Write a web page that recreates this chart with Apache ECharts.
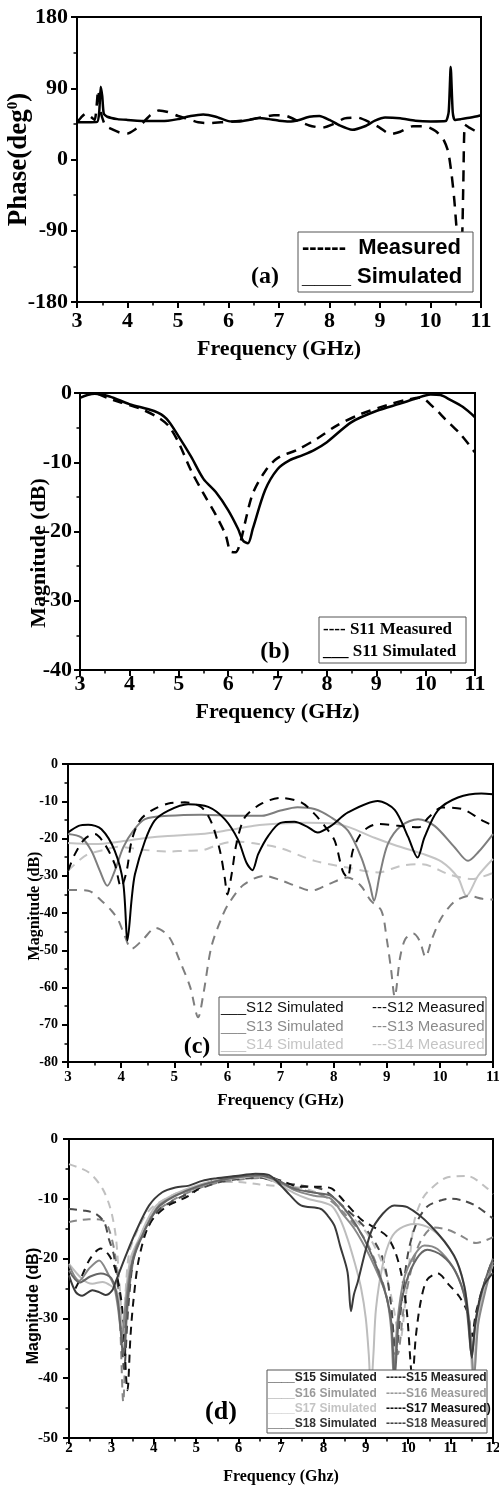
<!DOCTYPE html>
<html><head><meta charset="utf-8">
<script src="https://cdn.jsdelivr.net/npm/echarts@6/dist/echarts.min.js"></script>
<style>html,body{margin:0;padding:0;background:#fff}#c{width:499px;height:1486px}</style>
</head><body><div id="c"></div><script>
// ---------- DATA (frequency GHz, value) ----------
// Panel (a): phase (deg)
const A_SIM = [[3.0,47],[3.2,47],[3.4,47.5],[3.44,60],[3.47,92],[3.5,80],[3.53,58],[3.6,54],[3.8,51],[4.0,50],[4.4,48.5],[4.8,49],[5.0,51],[5.25,55],[5.5,57],[5.75,54],[6.0,48.5],[6.2,48],[6.4,50],[6.6,52.5],[6.8,51],[7.0,49],[7.2,48],[7.4,50],[7.6,54],[7.8,55],[8.0,50],[8.2,43],[8.45,37.5],[8.7,42],[8.9,49],[9.1,53],[9.4,52],[9.7,49],[10.0,48],[10.3,48.5],[10.36,60],[10.4,117],[10.44,60],[10.48,50],[10.6,51],[10.8,53],[11.0,56]];
const A_MEAS = [[3.0,47],[3.08,53],[3.17,58],[3.25,55],[3.35,50],[3.42,88],[3.47,60],[3.56,43],[3.7,38],[3.85,34],[4.0,33],[4.15,38],[4.3,46],[4.45,56],[4.62,62],[4.8,60],[5.0,55],[5.2,51],[5.4,47],[5.6,46],[5.85,47],[6.1,48],[6.4,50],[6.65,53],[6.9,56],[7.15,55],[7.4,48],[7.6,43],[7.85,40],[8.05,44],[8.3,52],[8.55,53],[8.8,47],[9.0,40],[9.2,32],[9.4,35],[9.65,42],[9.9,42],[10.1,36],[10.25,26],[10.35,10],[10.42,-20],[10.47,-50],[10.52,-90],[10.57,-120],[10.62,-110],[10.65,-30],[10.68,44],[10.75,41],[11.0,32]];
// Panel (b): S11 magnitude (dB)
const B_MEAS = [[3.35,-0.1],[3.55,-0.7],[3.8,-1.3],[4.2,-2.2],[4.6,-3.6],[4.8,-4.8],[5.0,-7.2],[5.25,-11.2],[5.5,-14.5],[5.75,-17.6],[5.95,-20.5],[6.05,-22.9],[6.15,-23],[6.25,-21.5],[6.35,-18.5],[6.5,-14.5],[6.75,-11.3],[7.0,-9.4],[7.4,-8.2],[7.8,-6.6],[8.2,-4.7],[8.7,-3.0],[9.2,-1.8],[9.6,-1.0],[9.9,-0.7],[10.15,-2.0],[10.4,-3.8],[10.7,-5.9],[11.0,-8.6]];
const B_SIM = [[3.0,-0.7],[3.15,-0.3],[3.3,-0.1],[3.6,-0.5],[4.0,-1.6],[4.5,-2.6],[4.75,-3.7],[5.0,-6.3],[5.25,-9.2],[5.5,-12.4],[5.75,-14.3],[6.0,-16.9],[6.2,-19.6],[6.3,-21.3],[6.4,-21.7],[6.5,-19.6],[6.75,-14.0],[7.0,-11.0],[7.25,-9.7],[7.5,-9.0],[7.75,-8.2],[8.0,-7.1],[8.5,-4.2],[9.0,-2.6],[9.5,-1.5],[9.8,-0.8],[10.1,-0.2],[10.3,-0.3],[10.5,-1.0],[10.75,-2.0],[11.0,-3.5]];
// Panel (c): S12..S14 (dB)
const C_S12_SIM = [[3.0,-18.4],[3.2,-16.6],[3.38,-16.3],[3.63,-17.5],[3.88,-23.3],[4.04,-32],[4.12,-47.3],[4.2,-36],[4.26,-29.6],[4.45,-20.6],[4.63,-15.2],[4.89,-12.5],[5.26,-10.8],[5.64,-11.5],[5.95,-14.8],[6.2,-20.3],[6.36,-26.5],[6.47,-28.5],[6.58,-24.2],[6.77,-19.3],[7.0,-15.8],[7.26,-15.5],[7.5,-16.8],[7.7,-18.4],[7.95,-16.6],[8.27,-13],[8.83,-9.9],[9.15,-12.3],[9.4,-19.5],[9.58,-25.1],[9.71,-19.7],[9.96,-12.5],[10.34,-9.0],[10.78,-7.9],[11.0,-8.1]];
const C_S12_MEAS = [[3.0,-28.7],[3.13,-24.2],[3.31,-20.2],[3.5,-18.8],[3.69,-21.5],[3.88,-26.9],[4.0,-33],[4.1,-29],[4.2,-20.5],[4.35,-15.2],[4.57,-12.5],[4.89,-10.6],[5.2,-10.3],[5.51,-11.6],[5.7,-15.7],[5.86,-23.3],[5.95,-30.5],[6.0,-35],[6.08,-29.6],[6.17,-21.5],[6.33,-14.3],[6.65,-10.6],[7.0,-9.1],[7.39,-10.3],[7.64,-13.4],[7.85,-17],[8.02,-20.6],[8.17,-28.7],[8.26,-30.5],[8.36,-23.3],[8.5,-19],[8.65,-17],[8.84,-16.1],[9.22,-16.6],[9.6,-17],[9.79,-14.3],[10.04,-11.7],[10.42,-12.1],[10.8,-15.2],[11.0,-16.5]];
const C_S13_SIM = [[3.0,-18.8],[3.25,-19.7],[3.44,-23.3],[3.6,-28.7],[3.74,-32.7],[3.88,-28.7],[4.04,-22.4],[4.23,-17.9],[4.45,-14.8],[4.89,-13.9],[5.51,-13.6],[6.14,-13.9],[6.65,-13.9],[7.0,-12.5],[7.32,-11.6],[7.64,-12.1],[7.95,-14.3],[8.27,-17.9],[8.52,-25.1],[8.68,-32.3],[8.76,-36.7],[8.87,-29.6],[9.02,-21.5],[9.27,-16.6],[9.59,-14.8],[9.9,-16.6],[10.28,-22.4],[10.53,-26],[10.72,-23.7],[11.0,-18.8]];
const C_S13_MEAS = [[3.0,-33.8],[3.38,-34],[3.63,-36.7],[3.82,-39.4],[3.95,-42],[4.05,-45.5],[4.2,-49.6],[4.4,-47.3],[4.65,-44],[4.9,-46.4],[5.1,-52.7],[5.3,-59.9],[5.45,-68],[5.55,-61.6],[5.7,-49],[5.9,-41],[6.02,-37.6],[6.3,-32.5],[6.7,-30],[7.0,-31.2],[7.3,-32.8],[7.58,-34],[7.9,-32.3],[8.26,-30.5],[8.5,-32.5],[8.7,-36.7],[8.9,-39.4],[9.0,-47],[9.08,-55],[9.15,-62.5],[9.25,-52],[9.35,-47],[9.5,-45.5],[9.62,-47.5],[9.73,-51.8],[9.85,-47],[10.0,-42],[10.15,-38.8],[10.3,-36.7],[10.55,-35.4],[10.8,-36.2],[11.0,-36.4]];
const C_S14_SIM = [[3.0,-21.2],[3.5,-21.5],[4.0,-20.8],[4.5,-19.8],[4.88,-19.3],[5.5,-18.8],[6.0,-17.8],[6.5,-16.6],[7.0,-16.0],[7.5,-15.8],[8.0,-16.0],[8.3,-17],[8.77,-19.8],[9.2,-22],[9.65,-24],[10.03,-26.2],[10.34,-30.5],[10.5,-35.4],[10.72,-30],[11.0,-25.5]];
const C_S14_MEAS = [[3.0,-28.7],[3.2,-26],[3.38,-24.2],[3.7,-23],[3.94,-22.2],[4.4,-23],[4.88,-23.5],[5.2,-23.3],[5.51,-23.2],[5.8,-21.8],[6.14,-20.8],[6.5,-21.3],[7.0,-22.6],[7.64,-26],[8.26,-27.8],[8.84,-29.1],[9.28,-27.3],[9.66,-26.9],[10.17,-29.6],[10.6,-30.9],[11.0,-29.2]];
// Panel (d): S15..S18 (dB)
const D_S15_SIM = [[2.0,-22.8],[2.16,-25.6],[2.31,-26.2],[2.55,-25.3],[2.71,-25.6],[2.86,-26.1],[3.02,-25.3],[3.1,-23.9],[3.34,-19.5],[3.57,-15.6],[3.89,-11.1],[4.2,-8.9],[4.51,-8.1],[4.83,-7.8],[5.14,-7.0],[5.46,-6.6],[5.93,-6.2],[6.4,-5.8],[6.71,-6.0],[7.0,-7.8],[7.2,-9.3],[7.47,-11.1],[7.94,-11.7],[8.1,-12.8],[8.26,-14.5],[8.4,-18],[8.57,-22.3],[8.65,-28.8],[8.72,-26],[8.81,-23.9],[9.12,-15.6],[9.4,-12.5],[9.67,-11.1],[9.98,-11.4],[10.53,-14.5],[11.08,-19.5],[11.32,-24.5],[11.42,-30],[11.5,-36.6],[11.58,-31],[11.75,-25],[12.0,-22.4]];
const D_S16_SIM = [[2.0,-21.1],[2.24,-23.7],[2.47,-21.7],[2.71,-20.3],[2.94,-22.8],[3.06,-24.5],[3.15,-28],[3.25,-33],[3.33,-28],[3.45,-21.5],[3.6,-17.8],[3.73,-16.2],[3.9,-13.5],[4.12,-11.1],[4.5,-9.5],[5.0,-8.2],[5.5,-7.0],[6.0,-6.4],[6.5,-6.0],[6.8,-6.5],[7.0,-7.2],[7.3,-8.5],[7.79,-9.5],[8.18,-10],[8.45,-12.5],[8.73,-15],[9.0,-18.3],[9.2,-21.2],[9.4,-24.5],[9.51,-27],[9.6,-32],[9.66,-40],[9.74,-31],[9.9,-23.4],[10.14,-19.5],[10.38,-17.8],[10.69,-18.4],[11.08,-21.7],[11.3,-25.5],[11.45,-31],[11.55,-40],[11.65,-31],[11.8,-26],[12.0,-20.5]];
const D_S17_SIM = [[2.0,-20.9],[2.31,-23.4],[2.55,-24.2],[2.79,-23.9],[2.98,-24.5],[3.14,-25.6],[3.21,-29],[3.27,-32],[3.34,-26],[3.45,-20],[3.65,-16.7],[3.85,-13.5],[4.06,-11.1],[4.5,-9.2],[5.0,-7.8],[5.5,-6.9],[6.0,-6.5],[6.4,-6.2],[6.7,-6.6],[7.0,-7.8],[7.3,-9],[7.63,-10],[8.18,-11.1],[8.4,-13.5],[8.57,-16.7],[8.75,-21],[8.89,-25],[9.0,-30],[9.07,-36],[9.12,-42],[9.18,-36],[9.24,-28.4],[9.4,-21],[9.59,-16.7],[9.8,-15],[10.14,-14.2],[10.53,-15],[10.93,-17.8],[11.24,-22.3],[11.42,-29],[11.53,-40],[11.63,-31],[11.8,-25],[12.0,-21]];
const D_S18_SIM = [[2.0,-22],[2.25,-24],[2.5,-23],[2.75,-22.5],[3.0,-23.3],[3.15,-27],[3.28,-36],[3.38,-27],[3.5,-20.5],[3.75,-15.8],[4.0,-12.5],[4.15,-11.1],[4.5,-9.5],[5.0,-8],[5.5,-7],[6.0,-6.3],[6.5,-6.1],[7.0,-7.2],[7.3,-8.3],[7.79,-9],[8.18,-9.5],[8.57,-12.3],[8.96,-16.7],[9.36,-23.4],[9.59,-30],[9.68,-40],[9.78,-30],[9.95,-24],[10.2,-20],[10.45,-18.5],[10.8,-19.5],[11.1,-22],[11.35,-27],[11.5,-36],[11.6,-30],[11.8,-24],[12.0,-20]];
const D_S15_MEAS = [[2.15,-25],[2.31,-22.8],[2.5,-20],[2.75,-18.3],[2.95,-19.5],[3.1,-22],[3.25,-28],[3.38,-42],[3.45,-33],[3.52,-27],[3.65,-20],[3.9,-14.2],[4.3,-11.3],[4.8,-9.6],[5.25,-7.4],[5.9,-6.3],[6.5,-6.0],[7.05,-7.1],[7.45,-8],[7.9,-8],[8.2,-8.3],[8.5,-10.5],[8.9,-13.5],[9.25,-15],[9.5,-16.3],[9.7,-19],[9.85,-23],[9.97,-29],[10.1,-40],[10.18,-33],[10.3,-27],[10.45,-23.5],[10.7,-22.5],[10.95,-24.3],[11.2,-26.3],[11.4,-29],[11.5,-33],[11.6,-29],[11.8,-24],[12.0,-20]];
const D_S16_MEAS = [[2.0,-13.9],[2.47,-13.4],[2.79,-13.6],[2.94,-15],[3.1,-20],[3.2,-30],[3.28,-44],[3.36,-30],[3.5,-21],[3.7,-16],[4.0,-12.5],[4.5,-10],[5.0,-8.4],[5.5,-7.3],[6.0,-6.8],[6.5,-6.5],[7.0,-7.5],[7.5,-8.5],[8.0,-9.5],[8.5,-12.5],[9.0,-17],[9.4,-24],[9.6,-30],[9.75,-36],[9.9,-28],[10.1,-21],[10.3,-17],[10.6,-14.8],[10.9,-15.1],[11.2,-16],[11.6,-17.4],[12.0,-16.4]];
const D_S17_MEAS = [[2.0,-4.2],[2.47,-5.6],[2.79,-8.3],[2.98,-11.7],[3.1,-16.1],[3.16,-21.1],[3.22,-27],[3.27,-33],[3.33,-26],[3.42,-19],[3.6,-15.5],[3.8,-12.8],[4.0,-11.2],[4.5,-9.2],[5.0,-8],[5.5,-7.2],[6.0,-7.2],[6.5,-7.6],[7.0,-7.9],[7.5,-8.2],[8.0,-9.5],[8.5,-12],[9.0,-15.5],[9.4,-21],[9.65,-28],[9.8,-34],[9.95,-26],[10.14,-13.9],[10.3,-10.5],[10.45,-8.9],[10.93,-6.4],[11.4,-6.2],[11.87,-8.3],[12.0,-9.2]];
const D_S18_MEAS = [[2.0,-11.7],[2.39,-12],[2.63,-12.5],[2.83,-13.9],[2.94,-16.7],[3.06,-19.5],[3.2,-28],[3.3,-38.5],[3.4,-28],[3.55,-19],[3.81,-15.5],[4.1,-12],[4.5,-10.2],[5.0,-8.6],[5.5,-7.3],[6.0,-6.7],[6.5,-6.5],[7.0,-7.3],[7.5,-7.8],[8.0,-8.5],[8.5,-11.5],[9.0,-15],[9.4,-20],[9.6,-28],[9.7,-36],[9.85,-27],[10.0,-19],[10.2,-14],[10.45,-11.3],[10.8,-10.2],[11.0,-10],[11.3,-10.3],[11.6,-11.2],[12.0,-13.3]];

// ---------- STYLE HELPERS ----------
const SERIF = 'Liberation Serif';
const SANS = 'Liberation Sans';

function xAx(gi, min, max, fs, margin, name, nfs, gap, nf) {
  return {
    type: 'value', gridIndex: gi, min: min, max: max, interval: 1,
    axisLine: {show: true, onZero: false, lineStyle: {color: '#000', width: 2}},
    axisTick: {show: true, inside: false, length: 6, lineStyle: {color: '#000', width: 2}},
    minorTick: {show: true, splitNumber: 2, length: 3.5, lineStyle: {color: '#000', width: 1.5}},
    splitLine: {show: false}, minorSplitLine: {show: false},
    axisLabel: {color: '#000', fontFamily: SERIF, fontWeight: 'bold', fontSize: fs, margin: margin},
    name: name, nameLocation: 'middle', nameGap: gap, nameMoveOverlap: false,
    nameTextStyle: {color: '#000', fontFamily: nf || SERIF, fontWeight: 'bold', fontSize: nfs}
  };
}
function yAx(gi, min, max, interval, fs, margin, name, nfs, gap, nf, pad, rich) {
  return {
    type: 'value', gridIndex: gi, min: min, max: max, interval: interval,
    axisLine: {show: true, onZero: false, lineStyle: {color: '#000', width: 2}},
    axisTick: {show: true, inside: false, length: 6, lineStyle: {color: '#000', width: 2}},
    minorTick: {show: true, splitNumber: 2, length: 3.5, lineStyle: {color: '#000', width: 1.5}},
    splitLine: {show: false}, minorSplitLine: {show: false},
    axisLabel: {color: '#000', fontFamily: SERIF, fontWeight: 'bold', fontSize: fs, margin: margin},
    name: name, nameLocation: 'middle', nameGap: gap, nameRotate: 90, nameMoveOverlap: false,
    nameTextStyle: {color: '#000', fontFamily: nf || SERIF, fontWeight: 'bold', fontSize: nfs,
      padding: pad || 0, rich: rich || {}}
  };
}
function ln(name, gi, data, color, width, dash, smooth) {
  return {
    name: name, type: 'line', xAxisIndex: gi, yAxisIndex: gi, data: data,
    showSymbol: false, symbol: 'none', smooth: smooth, animation: false,
    lineStyle: {color: color, width: width, type: dash || 'solid'},
    itemStyle: {color: color}, emphasis: {disabled: true}
  };
}
function lg(left, top, pitch, font, weight, fs, items, fmt) {
  return {
    left: left, top: top, orient: 'vertical', icon: 'none', itemWidth: 0, itemHeight: pitch,
    itemGap: 0, padding: 0, selectedMode: false, z: 20,
    data: items.map(function (it) { return {name: it[0], textStyle: {color: it[1]}}; }),
    formatter: fmt,
    textStyle: {fontFamily: font, fontWeight: weight, fontSize: fs, lineHeight: pitch, color: '#000'}
  };
}

const chart = echarts.init(document.getElementById('c'), null, {renderer: 'canvas'});
const gridBase = {show: true, borderColor: '#000', borderWidth: 2, backgroundColor: 'transparent',
  containLabel: false, outerBoundsMode: 'none'};

const option = {
  animation: false,
  backgroundColor: '#fff',
  grid: [
    Object.assign({left: 77, top: 17, width: 404, height: 285}, gridBase),
    Object.assign({left: 80, top: 393, width: 395, height: 277}, gridBase),
    Object.assign({left: 68, top: 764, width: 425, height: 298}, gridBase),
    Object.assign({left: 69, top: 1139, width: 424, height: 299}, gridBase)
  ],
  xAxis: [
    xAx(0, 3, 11, 22, 8, 'Frequency (GHz)', 22, 36),
    xAx(1, 3, 11, 22, 3, 'Frequency (GHz)', 22, 31),
    xAx(2, 3, 11, 15, 8, 'Frequency (GHz)', 17, 30),
    xAx(3, 2, 12, 15, 3, 'Frequency (Ghz)', 16, 31)
  ],
  yAxis: [
    yAx(0, -180, 180, 90, 22, 9, 'Phase(deg{s|0})', 27, 44, SERIF, 0,
        {s: {fontFamily: SERIF, fontWeight: 'bold', fontSize: 15, verticalAlign: 'top'}}),
    yAx(1, -40, 0, 10, 22, 8, 'Magnitude (dB)', 22, 30, SERIF, [0, 43, 0, 0]),
    yAx(2, -80, 0, 10, 14, 10, 'Magnitude (dB)', 16, 25, SERIF, [0, 0, 0, 14]),
    yAx(3, -50, 0, 10, 15, 11, 'Magnitude (dB)', 16, 27, SANS, [0, 35, 0, 0])
  ],
  legend: [
    lg(297, 233.5, 29, SANS, 'bold', 22, [['Measured', '#000'], ['Simulated', '#000']],
       function (n) { return n === 'Measured' ? '------  Measured' : '____ Simulated'; }),
    lg(318, 619, 22, SERIF, 'bold', 17, [['S11 Measured', '#000'], ['S11 Simulated', '#000']],
       function (n) { return n === 'S11 Measured' ? '---- S11 Measured' : '___ S11 Simulated'; }),
    lg(216, 998.7, 18.5, SANS, 'normal', 15,
       [['S12 Simulated', '#111'], ['S13 Simulated', '#8a8a8a'], ['S14 Simulated', '#c4c4c4']],
       function (n) { return '___' + n; }),
    lg(367, 998.7, 18.5, SANS, 'normal', 15,
       [['S12 Measured', '#111'], ['S13 Measured', '#8a8a8a'], ['S14 Measured', '#c4c4c4']],
       function (n) { return '---' + n; }),
    lg(263, 1370.3, 15.3, SANS, 'bold', 12,
       [['S15 Simulated', '#222'], ['S16 Simulated', '#9a9a9a'], ['S17 Simulated', '#c4c4c4'], ['S18 Simulated', '#333']],
       function (n) { return '____' + n; }),
    lg(381, 1370.3, 15.3, SANS, 'bold', 12,
       [['S15 Measured', '#222'], ['S16 Measured', '#9a9a9a'], ['S17 Measured', '#111'], ['S18 Measured', '#444']],
       function (n) { return '-----' + n + (n === 'S17 Measured' ? ')' : ''); })
  ],
  graphic: [
    {type: 'rect', z: 10, shape: {x: 298, y: 232, width: 175, height: 60}, style: {fill: '#fff', stroke: '#555', lineWidth: 1}},
    {type: 'rect', z: 10, shape: {x: 319, y: 617, width: 147, height: 46}, style: {fill: '#fff', stroke: '#555', lineWidth: 1}},
    {type: 'rect', z: 10, shape: {x: 219, y: 997, width: 267, height: 58}, style: {fill: '#fff', stroke: '#555', lineWidth: 1}},
    {type: 'rect', z: 10, shape: {x: 267, y: 1370, width: 220, height: 63}, style: {fill: '#fff', stroke: '#555', lineWidth: 1}},
    {type: 'text', z: 10, x: 265, y: 277, style: {text: '(a)', font: 'bold 24px "Liberation Serif"', fill: '#000', align: 'center', verticalAlign: 'middle'}},
    {type: 'text', z: 10, x: 275, y: 652, style: {text: '(b)', font: 'bold 24px "Liberation Serif"', fill: '#000', align: 'center', verticalAlign: 'middle'}},
    {type: 'text', z: 10, x: 197, y: 1047, style: {text: '(c)', font: 'bold 24px "Liberation Serif"', fill: '#000', align: 'center', verticalAlign: 'middle'}},
    {type: 'text', z: 10, x: 221, y: 1412, style: {text: '(d)', font: 'bold 26px "Liberation Serif"', fill: '#000', align: 'center', verticalAlign: 'middle'}}
  ],
  series: [
    ln('Measured', 0, A_MEAS, '#000', 2.5, [11, 8], 0.2),
    ln('Simulated', 0, A_SIM, '#000', 2.5, 'solid', 0.2),
    ln('S11 Measured', 1, B_MEAS, '#000', 2.5, [10, 7], 0.3),
    ln('S11 Simulated', 1, B_SIM, '#000', 2.5, 'solid', 0.3),
    ln('S14 Measured', 2, C_S14_MEAS, '#c4c4c4', 2, [9, 7], 0.3),
    ln('S14 Simulated', 2, C_S14_SIM, '#c4c4c4', 2, 'solid', 0.3),
    ln('S13 Measured', 2, C_S13_MEAS, '#7e7e7e', 2, [9, 7], 0.3),
    ln('S13 Simulated', 2, C_S13_SIM, '#7e7e7e', 2, 'solid', 0.3),
    ln('S12 Measured', 2, C_S12_MEAS, '#000', 2, [9, 7], 0.3),
    ln('S12 Simulated', 2, C_S12_SIM, '#000', 2, 'solid', 0.3),
    ln('S17 Measured', 3, D_S17_MEAS, '#c0c0c0', 2, [8, 6], 0.3),
    ln('S16 Measured', 3, D_S16_MEAS, '#888', 2, [8, 6], 0.3),
    ln('S18 Measured', 3, D_S18_MEAS, '#4a4a4a', 2, [8, 6], 0.3),
    ln('S15 Measured', 3, D_S15_MEAS, '#111', 2, [8, 6], 0.3),
    ln('S17 Simulated', 3, D_S17_SIM, '#bdbdbd', 2, 'solid', 0.3),
    ln('S16 Simulated', 3, D_S16_SIM, '#888', 2, 'solid', 0.3),
    ln('S18 Simulated', 3, D_S18_SIM, '#666', 2, 'solid', 0.3),
    ln('S15 Simulated', 3, D_S15_SIM, '#3a3a3a', 2, 'solid', 0.3)
  ]
};
chart.setOption(option);
</script></body></html>
